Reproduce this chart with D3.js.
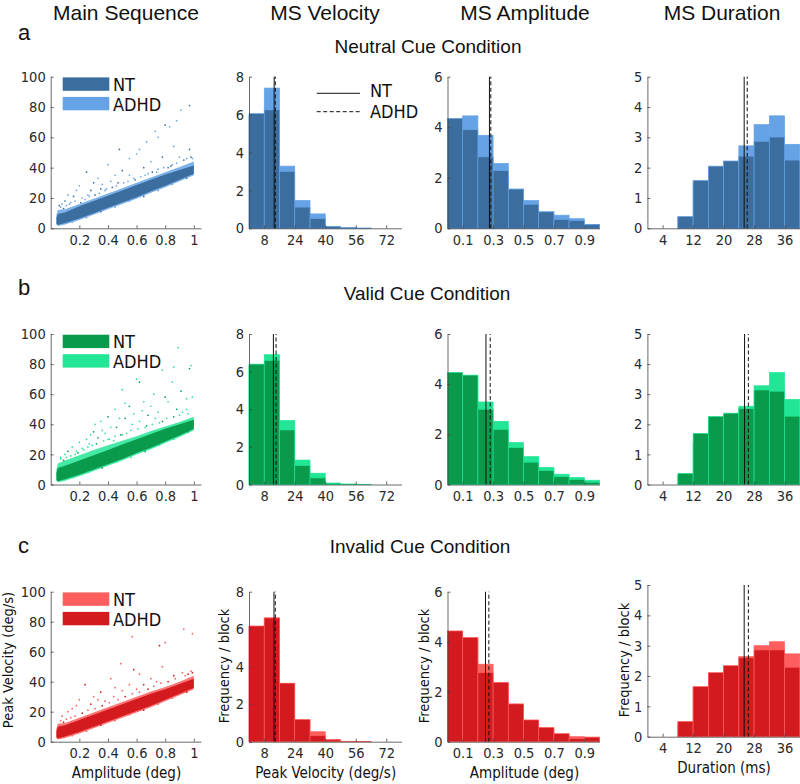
<!DOCTYPE html>
<html>
<head>
<meta charset="utf-8">
<script src="https://cdn.jsdelivr.net/npm/d3@7"></script>
<style>
body { margin: 0; background: #fff; }
text { font-family: "Liberation Sans Narrow", "DejaVu Sans Condensed", sans-serif; fill: #111; }
.title { font-family: "Liberation Sans", Arial, sans-serif; }
.axis path, .axis line { stroke: #444; stroke-width: 0.8; }
.axis text { font-family: "Liberation Sans Narrow", "DejaVu Sans Condensed", sans-serif; font-size: 14.5px; fill: #2a2a2a; }
</style>
</head>
<body>
<svg id="fig"></svg>
<script>
// histogram bin starts
let velEdges = [0, 8, 16, 24, 32, 40, 48, 56, 64, 72]
let ampEdges = [0, 0.1, 0.2, 0.3, 0.4, 0.5, 0.6, 0.7, 0.8, 0.9]
let durEdges = [8, 12, 16, 20, 24, 28, 32, 36]

let velTicks = [8, 24, 40, 56, 72]
let ampTicks = [0.1, 0.3, 0.5, 0.7, 0.9]
let durTicks = [4, 12, 20, 28, 36]
let mainXTicks = [0.2, 0.4, 0.6, 0.8, 1]
let mainYTicks = [0, 20, 40, 60, 80, 100]
let velYTicks = [0, 2, 4, 6, 8]
let ampYTicks = [0, 2, 4, 6]
let durYTicks = [0, 1, 2, 3, 4, 5]

// neutral cue
let neutralVelNT = [6.05, 6.25, 3.0, 1.12, 0.52, 0.09, 0.03, 0.01, 0, 0]
let neutralVelADHD = [5.9, 7.4, 3.28, 1.47, 0.76, 0.1, 0.03, 0.01, 0, 0]
let neutralAmpNT = [4.35, 3.9, 2.83, 2.28, 1.55, 0.95, 0.65, 0.35, 0.3, 0.15]
let neutralAmpADHD = [4.3, 4.45, 3.68, 2.57, 1.55, 1.1, 0.65, 0.52, 0.38, 0.15]
let neutralDurNT = [0.39, 1.58, 2.05, 2.22, 2.38, 2.87, 3.01, 2.25]
let neutralDurADHD = [0.35, 1.5, 2.0, 2.2, 2.72, 3.42, 3.71, 2.77]
let neutralMeans = {vel: [13.2, 13.8], amp: [0.276, 0.285], dur: [25.4, 26.2]}

// valid cue
let validVelNT = [6.4, 6.6, 2.9, 1.0, 0.35, 0.06, 0.02, 0.01, 0, 0]
let validVelADHD = [6.3, 6.9, 3.4, 1.3, 0.6, 0.08, 0.02, 0.01, 0, 0]
let validAmpNT = [4.47, 4.36, 3.0, 2.2, 1.47, 0.89, 0.56, 0.31, 0.2, 0.09]
let validAmpADHD = [4.4, 4.3, 3.29, 2.52, 1.67, 1.11, 0.68, 0.41, 0.28, 0.17]
let validDurNT = [0.37, 1.7, 2.26, 2.37, 2.52, 3.14, 3.1, 2.27]
let validDurADHD = [0.3, 1.4, 2.2, 2.3, 2.6, 3.28, 3.72, 2.83]
let validMeans = {vel: [12.8, 14.2], amp: [0.253, 0.281], dur: [25.5, 26.5]}

// invalid cue
let invalidVelNT = [6.1, 6.6, 3.1, 1.15, 0.53, 0.1, 0.02, 0.01, 0, 0]
let invalidVelADHD = [6.17, 6.6, 3.12, 1.18, 0.32, 0.1, 0.02, 0.01, 0, 0]
let invalidAmpNT = [4.4, 4.1, 3.1, 2.35, 1.5, 0.85, 0.55, 0.3, 0.2, 0.18]
let invalidAmpADHD = [4.43, 4.17, 2.76, 2.37, 1.51, 0.87, 0.56, 0.32, 0.12, 0.18]
let invalidDurNT = [0.45, 1.62, 2.05, 2.32, 2.64, 3.0, 3.13, 2.73]
let invalidDurADHD = [0.5, 1.65, 2.11, 2.34, 2.6, 2.86, 2.86, 2.29]
let invalidMeans = {vel: [13.1, 13.8], amp: [0.25, 0.272], dur: [25.4, 26.5]}

// main sequence: dense band (amplitude, lower/upper peak velocity)
let bandAmp = [0.04, 0.05, 0.1, 0.2, 0.3, 0.4, 0.5, 0.6, 0.7, 0.8, 0.9, 1.0]
let neutralCoreLo = [3, 2.2, 3.5, 6.5, 10, 13.5, 17, 20.5, 24.5, 28, 32, 36]
let neutralCoreHi = [7, 9.5, 10.5, 14.5, 18, 21.5, 25, 28.5, 32, 35.5, 38.5, 41.5]
let neutralHaloLo = [2.5, 1.5, 2.5, 5.5, 9, 12.5, 16, 19.5, 23.5, 27, 31, 35]
let neutralHaloHi = [9, 12, 12.5, 16, 19.5, 23, 26.5, 30, 33.5, 37, 40.5, 44]
let validCoreLo = [3, 2.2, 3.5, 6.5, 10, 13.5, 17, 21, 24.5, 28.5, 32.5, 37]
let validCoreHi = [8, 11, 12.5, 16, 19.5, 23, 26.5, 30, 33.5, 37, 40, 43]
let validHaloLo = [2.5, 1.5, 2.5, 5.5, 9, 12.5, 16, 20, 23.5, 27.5, 31.5, 36]
let validHaloHi = [10, 14, 16, 19.5, 23, 26, 29, 32, 35.5, 38.5, 41.5, 45]
let invalidCoreLo = [3, 2.2, 3.5, 6.5, 10, 13.5, 17, 20.5, 24, 28, 32, 36]
let invalidCoreHi = [7, 10, 11, 14.5, 18, 21.5, 25, 28.5, 32, 35, 38.5, 42]
let invalidHaloLo = [2.5, 1.5, 2.5, 5.5, 9, 12.5, 16, 19.5, 23, 27, 31, 35]
let invalidHaloHi = [9, 12, 12.5, 16, 19.5, 23, 26.5, 30, 33.5, 36.5, 40, 44]

// scattered saccades off the band: [amplitude, peak velocity, group]
let neutralPoints = [[0.97,81,'NT'],[0.91,78,'ADHD'],[0.80,68,'NT'],[0.83,67,'ADHD'],[0.73,64,'ADHD'],[0.86,54,'ADHD'],
  [0.97,52,'NT'],[0.55,46,'ADHD'],[0.62,52,'ADHD'],[0.48,52,'NT'],[0.60,49,'ADHD'],[0.67,57,'ADHD'],[0.75,60,'ADHD'],
  [0.88,71,'ADHD'],[0.40,42,'ADHD'],[0.25,37,'NT'],[0.33,33,'ADHD'],[0.30,30,'NT'],[0.36,29,'ADHD'],[0.20,28,'ADHD'],
  [0.28,25,'NT'],[0.12,22,'ADHD'],[0.16,21,'NT'],[0.70,44,'ADHD'],[0.78,47,'NT'],[0.90,47,'ADHD'],[0.65,40,'NT'],
  [0.45,35,'ADHD'],[0.50,38,'NT'],[0.42,31,'ADHD'],[0.55,35,'ADHD'],[0.18,25,'ADHD'],[0.10,18,'NT'],[0.08,16,'ADHD'],
  [0.22,20,'ADHD'],[0.35,26,'NT'],[0.58,33,'ADHD'],[0.85,42,'ADHD'],[0.93,45,'NT'],[0.99,46,'ADHD'],[0.38,25,'ADHD'],
  [0.14,17,'ADHD'],[0.06,15,'NT'],[0.26,22,'ADHD'],[0.47,30,'NT'],[0.68,36,'ADHD'],[0.75,39,'ADHD'],[0.82,40,'NT'],
  [0.07,14,'ADHD'],[0.09,13,'NT'],[0.11,15,'ADHD'],[0.13,16,'ADHD'],[0.17,18,'ADHD'],[0.21,17,'NT'],[0.24,19,'ADHD'],
  [0.27,21,'ADHD'],[0.31,22,'NT'],[0.34,23,'ADHD'],[0.39,26,'ADHD'],[0.43,27,'NT'],[0.46,28,'ADHD'],[0.51,30,'ADHD'],
  [0.54,31,'ADHD'],[0.59,32,'NT'],[0.63,34,'ADHD'],[0.66,35,'ADHD'],[0.71,37,'NT'],[0.74,37,'ADHD'],[0.79,40,'ADHD'],
  [0.84,41,'NT'],[0.88,43,'ADHD'],[0.95,46,'ADHD'],[0.98,47,'NT'],[0.15,4,'ADHD'],[0.25,7,'ADHD'],[0.35,11,'NT'],
  [0.45,14,'ADHD'],[0.55,18,'ADHD'],[0.65,21,'NT'],[0.75,25,'ADHD'],[0.85,29,'ADHD'],[0.95,33,'NT']]
let validPoints = [[0.89,91,'ADHD'],[0.98,79,'ADHD'],[0.97,77,'NT'],[0.86,78,'ADHD'],[0.78,76,'ADHD'],[0.60,70,'ADHD'],
  [0.62,68,'NT'],[0.50,63,'ADHD'],[0.85,68,'ADHD'],[0.91,62,'NT'],[0.95,57,'ADHD'],[0.99,58,'ADHD'],[0.72,60,'ADHD'],
  [0.80,58,'NT'],[0.65,55,'ADHD'],[0.70,52,'ADHD'],[0.55,52,'NT'],[0.52,54,'ADHD'],[0.45,50,'ADHD'],[0.40,45,'NT'],
  [0.35,42,'ADHD'],[0.48,44,'ADHD'],[0.58,47,'ADHD'],[0.42,38,'ADHD'],[0.30,35,'NT'],[0.25,30,'ADHD'],[0.28,33,'ADHD'],
  [0.20,28,'ADHD'],[0.15,25,'ADHD'],[0.12,22,'NT'],[0.22,24,'ADHD'],[0.33,31,'NT'],[0.38,34,'ADHD'],[0.62,42,'ADHD'],
  [0.75,48,'ADHD'],[0.88,50,'NT'],[0.95,50,'ADHD'],[0.68,46,'NT'],[0.82,55,'ADHD'],[0.57,40,'ADHD'],[0.46,38,'NT'],
  [0.36,36,'ADHD'],[0.27,27,'ADHD'],[0.18,22,'ADHD'],[0.10,20,'ADHD'],[0.07,18,'ADHD'],[0.31,40,'ADHD'],[0.52,44,'NT'],
  [0.73,44,'ADHD'],[0.64,49,'ADHD'],[0.44,29,'ADHD'],[0.66,38,'ADHD'],[0.78,42,'NT'],[0.92,48,'ADHD'],[0.40,30,'ADHD'],
  [0.50,33,'ADHD'],[0.07,17,'ADHD'],[0.09,16,'NT'],[0.11,18,'ADHD'],[0.14,19,'ADHD'],[0.17,20,'ADHD'],[0.19,21,'NT'],
  [0.23,23,'ADHD'],[0.26,25,'ADHD'],[0.29,26,'ADHD'],[0.32,27,'NT'],[0.37,29,'ADHD'],[0.41,30,'ADHD'],[0.45,32,'ADHD'],
  [0.49,33,'NT'],[0.53,34,'ADHD'],[0.56,36,'ADHD'],[0.61,37,'ADHD'],[0.67,39,'NT'],[0.71,40,'ADHD'],[0.76,41,'ADHD'],
  [0.81,44,'ADHD'],[0.86,45,'NT'],[0.90,46,'ADHD'],[0.96,47,'ADHD'],[0.16,5,'ADHD'],[0.26,8,'ADHD'],[0.36,11,'NT'],
  [0.46,15,'ADHD'],[0.56,18,'ADHD'],[0.66,22,'NT'],[0.76,26,'ADHD'],[0.86,30,'ADHD'],[0.96,35,'NT']]
let invalidPoints = [[0.93,75,'NT'],[0.99,72,'NT'],[0.57,70,'NT'],[0.80,66,'NT'],[0.76,64,'ADHD'],[0.49,52,'NT'],
  [0.58,48,'ADHD'],[0.78,50,'NT'],[0.62,45,'NT'],[0.24,38,'ADHD'],[0.42,42,'NT'],[0.92,46,'NT'],[0.30,30,'NT'],
  [0.35,33,'ADHD'],[0.20,28,'NT'],[0.15,22,'NT'],[0.45,36,'NT'],[0.70,42,'NT'],[0.98,47,'NT'],[0.86,44,'ADHD'],
  [0.55,38,'NT'],[0.38,27,'NT'],[0.28,25,'ADHD'],[0.12,20,'NT'],[0.08,17,'NT'],[0.18,24,'NT'],[0.50,34,'NT'],
  [0.65,38,'ADHD'],[0.74,40,'NT'],[0.44,30,'NT'],[0.60,35,'NT'],[0.33,28,'NT'],[0.96,45,'ADHD'],
  [0.07,14,'NT'],[0.09,13,'ADHD'],[0.11,15,'NT'],[0.14,16,'NT'],[0.17,17,'NT'],[0.22,19,'ADHD'],[0.26,21,'NT'],
  [0.31,22,'NT'],[0.36,24,'ADHD'],[0.41,26,'NT'],[0.47,28,'NT'],[0.52,30,'ADHD'],[0.57,32,'NT'],[0.62,33,'NT'],
  [0.68,35,'ADHD'],[0.72,37,'NT'],[0.77,39,'NT'],[0.82,40,'ADHD'],[0.87,42,'NT'],[0.94,44,'NT'],[0.99,46,'ADHD'],
  [0.15,4,'NT'],[0.25,7,'NT'],[0.35,11,'ADHD'],[0.45,14,'NT'],[0.55,18,'NT'],[0.65,21,'ADHD'],[0.75,25,'NT'],
  [0.85,29,'NT'],[0.95,33,'ADHD']]

let width = 800
let height = 784
let svg = d3.select('#fig').attr('width', width).attr('height', height)

let conditions = [
  {letter: 'a', name: 'Neutral Cue Condition', top: 76.7, bottom: 228.3, durTop: 76.7, durBottom: 228.3,
   letterY: 40, nameY: 53, nameX: 428,
   nt: '#3b6d9e', adhd: '#66a3e6', ntFront: true,
   vel: [neutralVelNT, neutralVelADHD], amp: [neutralAmpNT, neutralAmpADHD], dur: [neutralDurNT, neutralDurADHD],
   means: neutralMeans, band: [neutralCoreLo, neutralCoreHi, neutralHaloLo, neutralHaloHi], points: neutralPoints},
  {letter: 'b', name: 'Valid Cue Condition', top: 334, bottom: 484.5, durTop: 334, durBottom: 484.5,
   letterY: 295, nameY: 300, nameX: 427,
   nt: '#0a9a4b', adhd: '#22e595', ntFront: true,
   vel: [validVelNT, validVelADHD], amp: [validAmpNT, validAmpADHD], dur: [validDurNT, validDurADHD],
   means: validMeans, band: [validCoreLo, validCoreHi, validHaloLo, validHaloHi], points: validPoints},
  {letter: 'c', name: 'Invalid Cue Condition', top: 591.7, bottom: 741.7, durTop: 585, durBottom: 736.7,
   letterY: 553, nameY: 553, nameX: 420,
   nt: '#ff5e5e', adhd: '#d21a1f', ntFront: false,
   vel: [invalidVelNT, invalidVelADHD], amp: [invalidAmpNT, invalidAmpADHD], dur: [invalidDurNT, invalidDurADHD],
   means: invalidMeans, band: [invalidCoreLo, invalidCoreHi, invalidHaloLo, invalidHaloHi], points: invalidPoints}
]

function drawAxes(x, y, xTicks, yTicks) {
  svg.append('g').attr('class', 'axis')
    .attr('transform', 'translate(0,' + y.range()[0] + ')')
    .call(d3.axisBottom(x).tickValues(xTicks).tickFormat(d => String(d))
      .tickSizeInner(-3).tickSizeOuter(0).tickPadding(6))
  svg.append('g').attr('class', 'axis')
    .attr('transform', 'translate(' + x.range()[0] + ',0)')
    .call(d3.axisLeft(y).tickValues(yTicks).tickFormat(d => String(d))
      .tickSizeInner(-3).tickSizeOuter(0).tickPadding(5))
}

function drawScatter(c) {
  let x = d3.scaleLinear().domain([0, 1.05]).range([50.7, 201])
  let y = d3.scaleLinear().domain([0, 100]).range([c.bottom, c.top])
  let back = c.ntFront ? c.adhd : c.nt
  let front = c.ntFront ? c.nt : c.adhd
  let rows = bandAmp.map((a, i) => ({a: a, lo: c.band[0][i], hi: c.band[1][i], hlo: c.band[2][i], hhi: c.band[3][i]}))
  let halo = d3.area().x(d => x(d.a)).y0(d => y(d.hlo)).y1(d => y(d.hhi))
  let core = d3.area().x(d => x(d.a)).y0(d => y(d.lo)).y1(d => y(d.hi))
  svg.append('path').datum(rows).attr('d', halo).attr('fill', back).attr('opacity', 0.85)
  svg.append('path').datum(rows).attr('d', core).attr('fill', front)
  svg.append('g').selectAll('circle')
    .data(c.points)
    .enter()
    .append('circle')
    .attr('cx', d => x(d[0]))
    .attr('cy', d => y(d[1]))
    .attr('r', 0.85)
    .attr('fill', d => d[2] === 'NT' ? c.nt : c.adhd)
  drawAxes(x, y, mainXTicks, mainYTicks)

  // legend
  let lg = [['NT', c.nt], ['ADHD', c.adhd]]
  lg.forEach(function(l, i) {
    svg.append('rect').attr('x', 62.7).attr('y', c.top + 0.7 + i * 19.5)
      .attr('width', 46.6).attr('height', 13.4).attr('fill', l[1])
    svg.append('text').attr('x', 113).attr('y', c.top + 14 + i * 20)
      .attr('font-size', 18).text(l[0])
  })
}

function drawHist(x, yMax, top, bottom, edges, step, series, means, c, xTicks, yTicks) {
  let y = d3.scaleLinear().domain([0, yMax]).range([bottom, top])
  let back = c.ntFront ? series[1] : series[0]
  let front = c.ntFront ? series[0] : series[1]
  let backCol = c.ntFront ? c.adhd : c.nt
  let frontCol = c.ntFront ? c.nt : c.adhd
  ;[[back, backCol, backCol], [front, frontCol, backCol]].forEach(function(s) {
    svg.append('g').selectAll('rect')
      .data(s[0])
      .enter()
      .append('rect')
      .attr('x', (d, i) => x(edges[i]))
      .attr('width', (d, i) => x(edges[i] + step) - x(edges[i]))
      .attr('y', d => y(d))
      .attr('height', d => y(0) - y(d))
      .attr('fill', s[1])
      .attr('stroke', s[2])
      .attr('stroke-width', 0.7)
  })
  means.forEach(function(m, i) {
    svg.append('line')
      .attr('x1', x(m)).attr('x2', x(m))
      .attr('y1', y(0)).attr('y2', y(yMax))
      .attr('stroke', '#111').attr('stroke-width', 1)
      .attr('stroke-dasharray', i === 1 ? '4,2.5' : null)
  })
  drawAxes(x, y, xTicks, yTicks)
}

let velX = d3.scaleLinear().domain([0, 80]).range([249, 401.5])
let ampX = d3.scaleLinear().domain([0, 1]).range([447.5, 599.5])
let durX = d3.scaleLinear().domain([0, 40]).range([647.4, 799.8])

conditions.forEach(function(c) {
  drawScatter(c)
  drawHist(velX, 8, c.top, c.bottom, velEdges, 8, c.vel, c.means.vel, c, velTicks, velYTicks)
  drawHist(ampX, 6, c.top, c.bottom, ampEdges, 0.1, c.amp, c.means.amp, c, ampTicks, ampYTicks)
  drawHist(durX, 5, c.durTop, c.durBottom, durEdges, 4, c.dur, c.means.dur, c, durTicks, durYTicks)
  svg.append('text').attr('class', 'title').attr('x', 18).attr('y', c.letterY)
    .attr('font-size', 22).text(c.letter)
  svg.append('text').attr('class', 'title').attr('x', c.nameX).attr('y', c.nameY)
    .attr('text-anchor', 'middle').attr('font-size', 19).text(c.name)
})

// column titles
let colTitles = [['Main Sequence', 126], ['MS Velocity', 325], ['MS Amplitude', 525], ['MS Duration', 722]]
colTitles.forEach(function(t) {
  svg.append('text').attr('class', 'title').attr('x', t[1]).attr('y', 20)
    .attr('text-anchor', 'middle').attr('font-size', 21).text(t[0])
})

// mean line legend (panel a)
svg.append('line').attr('x1', 316.7).attr('x2', 360).attr('y1', 93.3).attr('y2', 93.3)
  .attr('stroke', '#111').attr('stroke-width', 1)
svg.append('line').attr('x1', 316.7).attr('x2', 360).attr('y1', 111.7).attr('y2', 111.7)
  .attr('stroke', '#111').attr('stroke-width', 1).attr('stroke-dasharray', '4,2.5')
svg.append('text').attr('x', 370).attr('y', 97).attr('font-size', 18).text('NT')
svg.append('text').attr('x', 370).attr('y', 117.5).attr('font-size', 18).text('ADHD')

// axis labels (bottom row)
let xLabels = [['Amplitude (deg)', 126.5, 778], ['Peak Velocity (deg/s)', 325.7, 778],
  ['Amplitude (deg)', 524.5, 778], ['Duration (ms)', 724, 773]]
xLabels.forEach(function(l) {
  svg.append('text').attr('x', l[1]).attr('y', l[2]).attr('text-anchor', 'middle')
    .attr('font-size', 15).attr('fill', '#333').text(l[0])
})
let yLabels = [['Peak Velocity (deg/s)', 13, 660], ['Frequency / block', 229, 666],
  ['Frequency / block', 429, 666], ['Frequency / block', 629, 660]]
yLabels.forEach(function(l) {
  svg.append('text').attr('transform', 'translate(' + l[1] + ',' + l[2] + ') rotate(-90)')
    .attr('text-anchor', 'middle').attr('font-size', 14.5).attr('fill', '#333').text(l[0])
})
</script>
</body>
</html>
